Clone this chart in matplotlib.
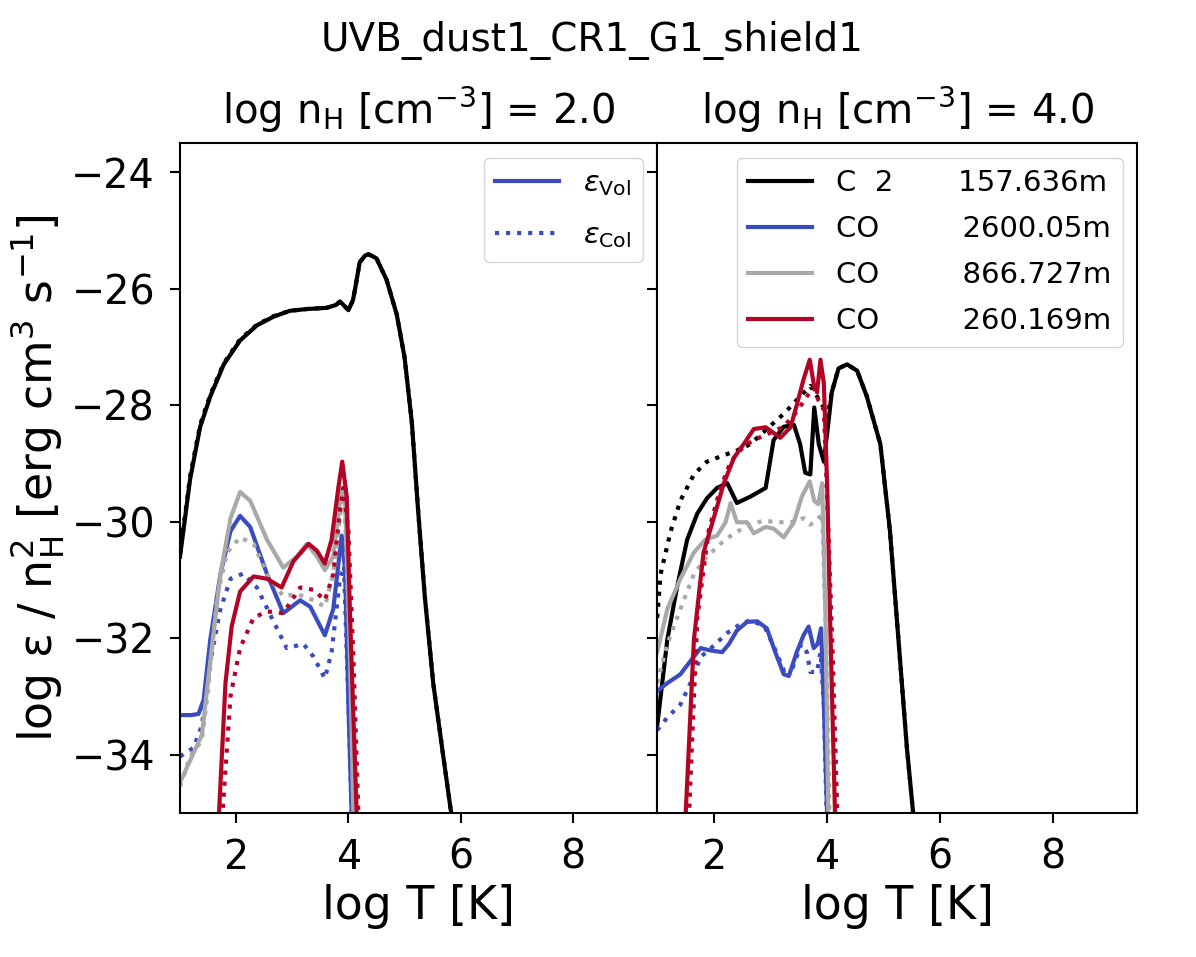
# line emissivity vs temperature, two densities

import numpy as np
import matplotlib
matplotlib.use('Agg')
import matplotlib.pyplot as plt

# colours per line
c_c2 = 'black'
c_co2600 = '#3b4cc0'
c_co866 = '#a9a9a9'
c_co260 = '#b40426'

labels = ['C  2       157.636m', 'CO         2600.05m', 'CO         866.727m', 'CO         260.169m']

# ---- log nH = 2.0 ----
n2_c2_T = [1.0, 1.18, 1.36, 1.54, 1.78, 2.07, 2.37, 2.67, 2.96, 3.26, 3.61, 3.78, 3.85, 3.93, 4.0,
           4.08, 4.12, 4.2, 4.3, 4.36, 4.5, 4.68, 4.86, 5.0, 5.13, 5.24, 5.36, 5.51, 5.69, 5.83]
n2_c2_vol = [-30.6, -29.27, -28.37, -27.85, -27.3, -26.89, -26.63, -26.48, -26.38, -26.35, -26.33, -26.28,
             -26.22, -26.3, -26.37, -26.2, -26.0, -25.55, -25.43, -25.41, -25.48, -25.85, -26.44, -27.18,
             -28.3, -29.79, -31.28, -32.77, -34.03, -35.0]
n2_c2_col = [-30.55, -29.22, -28.33, -27.82, -27.28, -26.87, -26.62, -26.47, -26.38, -26.35, -26.33, -26.28,
             -26.22, -26.3, -26.37, -26.2, -26.0, -25.55, -25.43, -25.41, -25.48, -25.85, -26.44, -27.18,
             -28.3, -29.79, -31.28, -32.77, -34.03, -35.0]

n2_co2600_T = [1.0, 1.2, 1.33, 1.42, 1.54, 1.72, 1.9, 2.07, 2.25, 2.55, 2.84, 3.14, 3.32, 3.58, 3.73,
               3.88, 3.94, 4.0, 4.06]
n2_co2600_vol = [-33.32, -33.32, -33.3, -33.06, -32.02, -30.9, -30.16, -29.9, -30.09, -30.9, -31.57, -31.35,
                 -31.46, -31.95, -31.5, -30.24, -30.83, -33.14, -35.1]
n2_co2600_T_col = [1.0, 1.24, 1.39, 1.54, 1.72, 1.9, 2.13, 2.37, 2.67, 2.9, 3.2, 3.38, 3.58, 3.7, 3.85,
                   3.92, 4.0, 4.06]
n2_co2600_col = [-34.03, -33.88, -33.5, -32.4, -31.5, -30.98, -30.89, -31.13, -31.72, -32.17, -32.1, -32.32,
                 -32.69, -32.24, -30.98, -30.76, -33.14, -35.1]

n2_co866_T = [1.0, 1.18, 1.39, 1.54, 1.72, 1.9, 2.07, 2.25, 2.55, 2.84, 3.08, 3.26, 3.44, 3.58, 3.73,
              3.88, 3.94, 4.03, 4.09]
n2_co866_vol = [-34.48, -34.1, -33.66, -32.39, -30.9, -29.94, -29.49, -29.64, -30.31, -30.79, -30.6, -30.38,
                -30.6, -30.83, -30.6, -29.42, -29.64, -32.39, -35.1]
n2_co866_T_col = [1.0, 1.18, 1.39, 1.5, 1.66, 1.84, 2.07, 2.31, 2.55, 2.84, 3.08, 3.38, 3.58, 3.73, 3.88,
                  3.94, 4.06, 4.12]
n2_co866_col = [-34.55, -34.03, -33.75, -32.9, -31.28, -30.53, -30.27, -30.38, -30.9, -31.28, -31.24, -31.35,
                -31.46, -30.9, -29.64, -29.94, -33.14, -35.1]

n2_co260_T = [1.69, 1.81, 1.92, 2.07, 2.31, 2.55, 2.81, 3.02, 3.29, 3.44, 3.58, 3.7, 3.82, 3.89, 3.97,
              4.03, 4.15]
n2_co260_vol = [-35.1, -32.77, -31.8, -31.2, -30.94, -30.98, -31.13, -30.68, -30.38, -30.5, -30.72, -30.31,
                -29.42, -28.97, -29.57, -31.65, -35.1]
n2_co260_T_col = [1.75, 1.9, 2.07, 2.31, 2.55, 2.84, 3.14, 3.38, 3.58, 3.73, 3.85, 3.91, 4.0, 4.09, 4.18]
n2_co260_col = [-35.1, -32.99, -32.17, -31.65, -31.54, -31.57, -31.13, -31.17, -31.35, -30.9, -29.79, -29.42,
                -30.16, -32.39, -35.1]

# ---- log nH = 4.0 ----
n4_c2_T = [1.0, 1.18, 1.35, 1.53, 1.71, 1.88, 2.06, 2.24, 2.41, 2.65, 2.92, 3.06, 3.24, 3.42, 3.53, 3.62,
           3.71, 3.78, 3.86, 3.95, 4.03, 4.09, 4.21, 4.36, 4.54, 4.71, 4.95, 5.12, 5.27, 5.42, 5.54]
n4_c2_vol = [-33.5, -32.02, -31.13, -30.31, -29.86, -29.6, -29.42, -29.34, -29.68, -29.57, -29.42, -28.6,
             -28.37, -28.34, -28.67, -29.16, -29.19, -28.04, -28.67, -28.97, -28.3, -27.78, -27.37, -27.3,
             -27.41, -27.85, -28.67, -30.16, -32.02, -33.88, -35.1]
n4_c2_T_col = [1.0, 1.06, 1.24, 1.41, 1.65, 1.88, 2.18, 2.41, 2.65, 2.94, 3.24, 3.53, 3.71, 3.83, 3.92,
               4.03, 4.09, 4.21, 4.36, 4.54, 4.71, 4.95, 5.12, 5.27, 5.42, 5.54]
n4_c2_col = [-31.65, -30.9, -30.16, -29.64, -29.19, -28.97, -28.86, -28.78, -28.67, -28.41, -28.15, -27.85,
             -27.67, -27.85, -28.0, -28.1, -27.78, -27.37, -27.3, -27.41, -27.85, -28.67, -30.16, -32.02,
             -33.88, -35.1]

n4_co2600_T = [1.0, 1.18, 1.41, 1.59, 1.77, 1.94, 2.15, 2.27, 2.41, 2.59, 2.77, 2.94, 3.09, 3.24, 3.33,
               3.47, 3.59, 3.68, 3.77, 3.84, 3.9, 3.95, 4.01]
n4_co2600_vol = [-32.91, -32.77, -32.62, -32.39, -32.17, -32.21, -32.24, -32.1, -31.87, -31.72, -31.71,
                 -31.83, -32.24, -32.62, -32.65, -32.24, -31.95, -31.8, -32.17, -32.1, -31.83, -33.14, -35.1]
n4_co2600_T_col = [1.0, 1.18, 1.41, 1.59, 1.77, 2.0, 2.24, 2.47, 2.65, 2.9, 3.09, 3.24, 3.4, 3.55, 3.65,
                   3.71, 3.83, 3.89, 3.95, 4.0]
n4_co2600_col = [-33.58, -33.36, -33.14, -32.77, -32.32, -32.13, -31.91, -31.76, -31.69, -31.8, -32.2,
                 -32.55, -32.5, -32.1, -32.24, -32.58, -32.58, -32.24, -33.14, -35.1]

n4_co866_T = [1.0, 1.18, 1.41, 1.65, 1.85, 2.06, 2.21, 2.3, 2.41, 2.59, 2.71, 2.92, 3.06, 3.24, 3.42,
              3.56, 3.7, 3.78, 3.85, 3.92, 3.98, 4.03]
n4_co866_vol = [-32.24, -31.5, -30.98, -30.53, -30.31, -30.24, -30.01, -29.68, -30.01, -30.01, -30.2, -30.09,
                -30.12, -30.27, -30.01, -29.57, -29.31, -29.64, -29.7, -29.34, -31.65, -35.1]
n4_co866_T_col = [1.0, 1.18, 1.41, 1.65, 1.88, 2.12, 2.36, 2.65, 2.89, 3.12, 3.36, 3.59, 3.71, 3.83, 3.92,
                  4.0, 4.05]
n4_co866_col = [-32.77, -32.1, -31.5, -30.9, -30.6, -30.38, -30.2, -30.05, -29.98, -30.01, -30.01, -29.94,
                -30.05, -29.98, -29.86, -32.39, -35.1]

n4_co260_T = [1.5, 1.65, 1.82, 2.0, 2.18, 2.36, 2.53, 2.71, 2.92, 3.18, 3.36, 3.47, 3.59, 3.7, 3.77, 3.83,
              3.89, 3.95, 4.01, 4.06, 4.15]
n4_co260_vol = [-35.1, -32.02, -30.53, -29.94, -29.34, -28.9, -28.67, -28.41, -28.38, -28.56, -28.38, -28.0,
                -27.56, -27.22, -27.63, -27.78, -27.22, -27.63, -29.42, -31.65, -35.1]
n4_co260_T_col = [1.56, 1.71, 1.91, 2.12, 2.3, 2.53, 2.71, 2.94, 3.24, 3.47, 3.65, 3.77, 3.86, 3.95, 4.03,
                  4.11, 4.19]
n4_co260_col = [-35.1, -31.65, -30.16, -29.42, -28.97, -28.71, -28.6, -28.5, -28.37, -28.11, -27.85, -27.7,
                -27.93, -28.08, -30.16, -32.39, -35.1]

panels = [
    ('2.0', [(n2_c2_T, n2_c2_vol, n2_c2_T, n2_c2_col, c_c2),
             (n2_co2600_T, n2_co2600_vol, n2_co2600_T_col, n2_co2600_col, c_co2600),
             (n2_co866_T, n2_co866_vol, n2_co866_T_col, n2_co866_col, c_co866),
             (n2_co260_T, n2_co260_vol, n2_co260_T_col, n2_co260_col, c_co260)]),
    ('4.0', [(n4_c2_T, n4_c2_vol, n4_c2_T_col, n4_c2_col, c_c2),
             (n4_co2600_T, n4_co2600_vol, n4_co2600_T_col, n4_co2600_col, c_co2600),
             (n4_co866_T, n4_co866_vol, n4_co866_T_col, n4_co866_col, c_co866),
             (n4_co260_T, n4_co260_vol, n4_co260_T_col, n4_co260_col, c_co260)]),
]

fig = plt.figure(figsize=(11.96, 9.57), dpi=100)
ax1 = fig.add_axes([0.1505, 0.1505, 0.399, 0.7001])
ax2 = fig.add_axes([0.5495, 0.1505, 0.4015, 0.7001], sharey=ax1)

lw = 3
for ax, (nh, curves) in zip([ax1, ax2], panels):
    handles = []
    for T, vol, Tc, col, color in curves:
        h, = ax.plot(T, vol, color=color, lw=lw, ls='-')
        ax.plot(Tc, col, color=color, lw=lw, ls=':')
        handles.append(h)
    ax.set_xlim(1, 9.5)
    ax.set_ylim(-35, -23.5)
    ax.set_xticks([2, 4, 6, 8])
    ax.set_yticks([-34, -32, -30, -28, -26, -24])
    ax.tick_params(labelsize=28.5, length=7.5, width=1.5, pad=10.5)
    for s in ax.spines.values():
        s.set_linewidth(1.5)
    ax.set_xlabel('log T [K]', fontsize=33)
    ax.set_title(r'log n$_\mathrm{H}$ [cm$^{-3}$] = ' + nh, fontsize=29, pad=14)
    if ax is ax2:
        ax.legend(handles, labels, loc='upper right', fontsize=21, labelspacing=0.62, handlelength=2.2)

ax1.yaxis.set_ticks_position('both')
plt.setp(ax2.get_yticklabels(), visible=False)
ax1.set_ylabel(r'log ε / n$_\mathrm{H}^2$ [erg cm$^3$ s$^{-1}$]', fontsize=33, labelpad=3)

# legend for emissivity kind
ax1.plot([], [], color=c_co2600, lw=lw, ls='-', label=r'$\varepsilon_{\rm Vol}$')
ax1.plot([], [], color=c_co2600, lw=lw, ls=':', label=r'$\varepsilon_{\rm Col}$')
ax1.legend(loc='upper right', fontsize=21, labelspacing=0.8, handlelength=2.2)

fig.suptitle('UVB_dust1_CR1_G1_shield1', x=0.495, y=0.978, fontsize=28)

plt.savefig('out.png', dpi=100)
